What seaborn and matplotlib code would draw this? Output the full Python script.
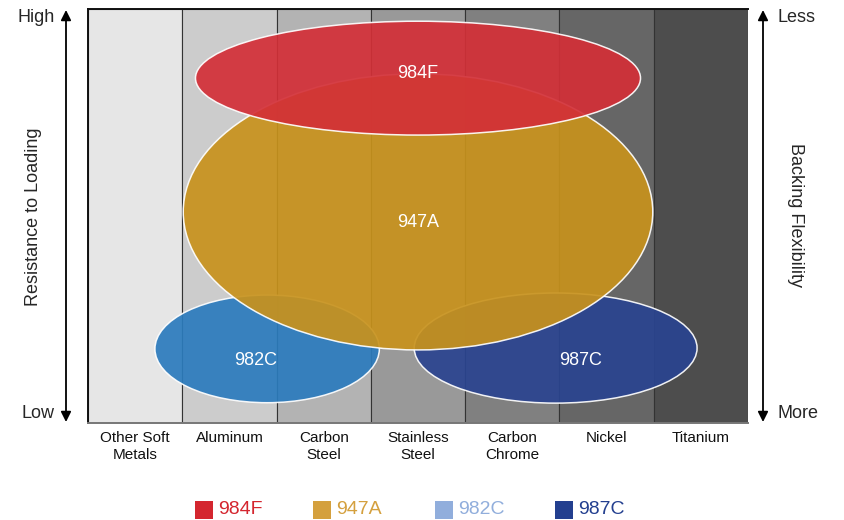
import matplotlib
matplotlib.use("Agg")
import matplotlib.pyplot as plt
import seaborn as sns
import pandas as pd
from matplotlib.patches import Ellipse, Rectangle

metals = ["Other Soft\nMetals", "Aluminum", "Carbon\nSteel", "Stainless\nSteel",
          "Carbon\nChrome", "Nickel", "Titanium"]
band_height = [100, 100, 100, 100, 100, 100, 100]
band_colors = ["#e6e6e6", "#cccccc", "#b3b3b3", "#999999", "#808080", "#666666", "#4d4d4d"]

products = ["982C", "987C", "947A", "984F"]          # draw order (bottom to top)
center_x = [1.40, 4.46, 3.00, 3.00]
center_y = [17.9, 18.1, 51.0, 83.3]
span_x = [2.38, 3.00, 4.98, 4.72]
span_y = [26.0, 26.6, 66.7, 27.5]
label_x = [1.28, 4.72, 3.00, 3.00]
label_y = [15.2, 15.2, 48.5, 84.3]
fill_colors = ["#2b7bbd", "#2a4490", "#c8921c", "#d32f37"]

legend_names = ["984F", "947A", "982C", "987C"]
legend_colors = ["#d4262f", "#d4a03e", "#91aedc", "#233f8f"]

sns.set_theme(style="white")
plt.rcParams["font.family"] = ["Liberation Sans", "DejaVu Sans"]

fig = plt.figure(figsize=(8.45, 5.2), dpi=100)
ax = fig.add_axes([88 / 845, 97 / 520, 660 / 845, 414 / 520])

df = pd.DataFrame({"metal": metals, "h": band_height})
sns.barplot(data=df, x="metal", y="h", hue="metal", palette=band_colors,
            width=1.0, edgecolor="#333333", linewidth=0.8, legend=False, ax=ax)

for name, cx, cy, w, h, c in zip(products, center_x, center_y, span_x, span_y, fill_colors):
    ax.add_patch(Ellipse((cx, cy), w, h, facecolor=c, alpha=0.92,
                         edgecolor="white", linewidth=1.1, zorder=3))
for name, lx, ly in zip(products, label_x, label_y):
    ax.text(lx, ly, name, color="white", fontsize=13, ha="center", va="center", zorder=5)

ax.set_xlim(-0.5, 6.5)
ax.set_ylim(0, 100)
ax.set_xlabel("")
ax.set_ylabel("")
ax.set_yticks([])
ax.tick_params(axis="x", length=0, labelsize=11, pad=6, colors="#111111")
for s in ["left", "top"]:
    ax.spines[s].set_visible(True)
    ax.spines[s].set_color("#111111")
    ax.spines[s].set_linewidth(1.4)
ax.spines["right"].set_visible(False)
ax.spines["bottom"].set_color("#777777")
ax.spines["bottom"].set_linewidth(1.4)

def fy(ypix):
    return (520 - ypix) / 520

def fx(xpix):
    return xpix / 845

arrowprops = dict(arrowstyle="<|-|>", color="black", lw=1.3, mutation_scale=15,
                  shrinkA=0, shrinkB=0)
fig.add_artist(matplotlib.patches.FancyArrowPatch((fx(66), fy(10)), (fx(66), fy(422)),
                                                  transform=fig.transFigure, **arrowprops))
fig.add_artist(matplotlib.patches.FancyArrowPatch((fx(763), fy(10)), (fx(763), fy(422)),
                                                  transform=fig.transFigure, **arrowprops))

fig.text(fx(55), fy(18), "High", ha="right", va="center", fontsize=13)
fig.text(fx(55), fy(414), "Low", ha="right", va="center", fontsize=13)
fig.text(fx(34), fy(217), "Resistance to Loading", rotation=90, ha="center", va="center", fontsize=13)
fig.text(fx(778), fy(18), "Less", ha="left", va="center", fontsize=13)
fig.text(fx(778), fy(414), "More", ha="left", va="center", fontsize=13)
fig.text(fx(796), fy(215), "Backing Flexibility", rotation=-90, ha="center", va="center", fontsize=13)

legend_x = [195, 313, 435, 555]
for name, c, lxp in zip(legend_names, legend_colors, legend_x):
    fig.add_artist(Rectangle((fx(lxp), fy(519)), 18 / 845, 18 / 520, transform=fig.transFigure,
                             facecolor=c, edgecolor="none"))
    fig.text(fx(lxp + 23), fy(510), name, color=c, ha="left", va="center", fontsize=14)

fig.savefig("out.png", dpi=100)
